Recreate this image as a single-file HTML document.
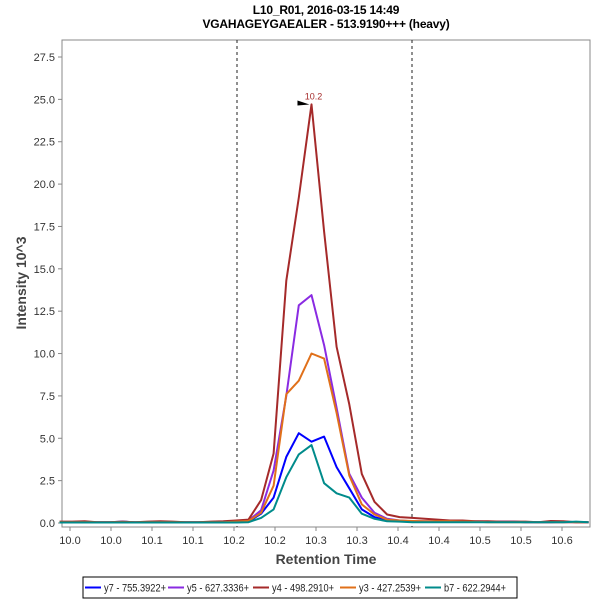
<!DOCTYPE html>
<html><head><meta charset="utf-8"><style>
body{margin:0;background:#fff;font-family:"Liberation Sans",sans-serif;}
svg text{font-family:"Liberation Sans",sans-serif;}
</style></head><body>
<svg id="chart" width="600" height="600" viewBox="0 0 600 600">
<rect width="600" height="600" fill="#fff"/>
<text x="326" y="14" text-anchor="middle" font-size="12" font-weight="bold" letter-spacing="-0.2">L10_R01, 2016-03-15 14:49</text>
<text x="326" y="28" text-anchor="middle" font-size="12" font-weight="bold" letter-spacing="-0.2">VGAHAGEYGAEALER - 513.9190+++ (heavy)</text>
<rect x="62" y="40" width="528" height="487" fill="#fff" stroke="#888"/>
<g id="yaxis"></g>
<g id="xaxis"></g>
<text transform="translate(26,283) rotate(-90)" text-anchor="middle" font-size="14" font-weight="bold" fill="#444">Intensity 10^3</text>
<text x="326" y="564" text-anchor="middle" font-size="14" font-weight="bold" fill="#444">Retention Time</text>
<line x1="237" y1="40" x2="237" y2="527" stroke="#222" stroke-dasharray="3,3"/>
<line x1="412" y1="40" x2="412" y2="527" stroke="#222" stroke-dasharray="3,3"/>
<g id="series"></g>
<g id="legend">
<rect x="83" y="577" width="434" height="21" fill="#fff" stroke="#000"/>
</g>
</svg>
<script>
const times=[9.9891,10.0022,10.0152,10.0283,10.0413,10.0544,10.0675,10.0805,10.0936,10.1066,10.1197,10.1328,10.1458,10.1589,10.1719,10.1850,10.1981,10.2111,10.2242,10.2372,10.2503,10.2634,10.2764,10.2895,10.3025,10.3156,10.3287,10.3417,10.3548,10.3678,10.3809,10.3940,10.4070,10.4201,10.4331,10.4462,10.4593,10.4723,10.4854,10.4984,10.5115,10.5246,10.5376];
const y7=[0.05,0.05,0.05,0.05,0.05,0.08,0.05,0.05,0.05,0.05,0.05,0.05,0.05,0.05,0.05,0.08,0.55,1.5,3.9,5.3,4.8,5.1,3.3,2.05,0.8,0.35,0.15,0.1,0.08,0.08,0.08,0.08,0.08,0.1,0.08,0.08,0.08,0.05,0.05,0.05,0.08,0.05,0.05];
const y5=[0.05,0.05,0.05,0.05,0.05,0.05,0.05,0.05,0.05,0.05,0.05,0.05,0.05,0.05,0.08,0.15,0.75,3.1,7.5,12.85,13.45,10.5,6.8,2.9,1.5,0.6,0.25,0.15,0.1,0.1,0.1,0.08,0.08,0.08,0.08,0.08,0.08,0.05,0.05,0.05,0.05,0.05,0.05];
const y4=[0.08,0.08,0.1,0.05,0.05,0.08,0.05,0.08,0.1,0.08,0.05,0.05,0.08,0.1,0.15,0.2,1.35,4.1,14.3,19.2,24.7,17.2,10.4,7.0,2.9,1.25,0.5,0.35,0.3,0.25,0.2,0.15,0.15,0.1,0.1,0.08,0.08,0.08,0.05,0.12,0.1,0.05,0.05];
const y3=[0.05,0.05,0.05,0.05,0.05,0.05,0.05,0.05,0.05,0.05,0.05,0.05,0.05,0.05,0.08,0.12,0.6,2.2,7.6,8.4,10.0,9.7,6.5,2.8,1.1,0.5,0.2,0.15,0.12,0.1,0.1,0.1,0.08,0.08,0.05,0.05,0.05,0.05,0.05,0.05,0.05,0.05,0.05];
const b7=[0.03,0.03,0.03,0.03,0.03,0.03,0.03,0.03,0.03,0.03,0.03,0.03,0.03,0.03,0.03,0.05,0.3,0.8,2.7,4.05,4.6,2.35,1.75,1.5,0.55,0.25,0.1,0.08,0.05,0.05,0.05,0.05,0.05,0.05,0.05,0.05,0.05,0.05,0.05,0.05,0.05,0.08,0.05];
const seriesNames=["y7 - 755.3922+","y5 - 627.3336+","y4 - 498.2910+","y3 - 427.2539+","b7 - 622.2944+"];
const seriesColors=["#0000ff","#8a2be2","#a52a2a","#e0701a","#008b8b"];
const yTicks=[0,2.5,5,7.5,10,12.5,15,17.5,20,22.5,25,27.5];
const xTicks=[10.0,10.0425,10.085,10.1275,10.17,10.2125,10.255,10.2975,10.34,10.3825,10.425,10.4675,10.51,10.5525];
const xTickLabels=["10.0","10.0","10.1","10.1","10.2","10.2","10.3","10.3","10.4","10.4","10.5","10.5","10.6","10.6"];
const peakTime=10.2503, peakValue=24.7, peakLabel="10.2";

const NS="http://www.w3.org/2000/svg";
const X0=70, XPX=41/0.0425, Y0=523, YPX=(523-57)/27.5;
const xs=t=>X0+(t-10.0)*XPX;
const ys=v=>Y0-v*YPX;
function mk(tag,attrs,parent){const e=document.createElementNS(NS,tag);for(const k in attrs)e.setAttribute(k,attrs[k]);parent.appendChild(e);return e;}
const yax=document.getElementById('yaxis');
yTicks.forEach(v=>{
  const l=mk('line',{x1:58,x2:62,y1:ys(v),y2:ys(v),stroke:'#888'},yax);
  
  
  const t=mk('text',{x:55,y:ys(v)+4,'text-anchor':'end','font-size':11,fill:'#333'},yax);
  t.textContent=v.toFixed(1);
  
  
});
const xax=document.getElementById('xaxis');
xTicks.forEach((v,i)=>{
  const x=xs(v); if(x>590)return;
  const l=mk('line',{x1:x,x2:x,y1:527,y2:531,stroke:'#888'},xax);
  
  
  const t=mk('text',{x:x,y:544,'text-anchor':'middle','font-size':11,fill:'#333'},xax);
  t.textContent=xTickLabels[i];
  
  
});
const sg=document.getElementById('series');
[y7,y5,y4,y3,b7].forEach((arr,si)=>{
  const pts=arr.map((v,i)=>xs(times[i]).toFixed(1)+','+ys(v).toFixed(1)).join(' ');
  const p=mk('polyline',{points:pts,fill:'none',stroke:seriesColors[si],'stroke-width':2,'stroke-linejoin':'round'},sg);
  
  
});
const px=xs(peakTime), py=ys(peakValue);
const arrow=mk('polygon',{points:`${px-14},${py-4} ${px-2},${py} ${px-14},${py+1}`,fill:'#000'},sg);


const pl=mk('text',{x:px+2,y:py-5,'text-anchor':'middle','font-size':9,fill:'#a52a2a'},sg);
pl.textContent=peakLabel;


const lg=document.getElementById('legend');
const lx=[85,168,253,340,425];
seriesNames.forEach((n,i)=>{
  const g=mk('g',{},lg);
  
  
  mk('line',{x1:lx[i],x2:lx[i]+16,y1:587.5,y2:587.5,stroke:seriesColors[i],'stroke-width':2},g);
  const t=mk('text',{x:lx[i]+19,y:591.5,'font-size':11,fill:'#222',textLength:62,lengthAdjust:'spacingAndGlyphs'},g);
  t.textContent=n;
});
</script>
</body></html>
